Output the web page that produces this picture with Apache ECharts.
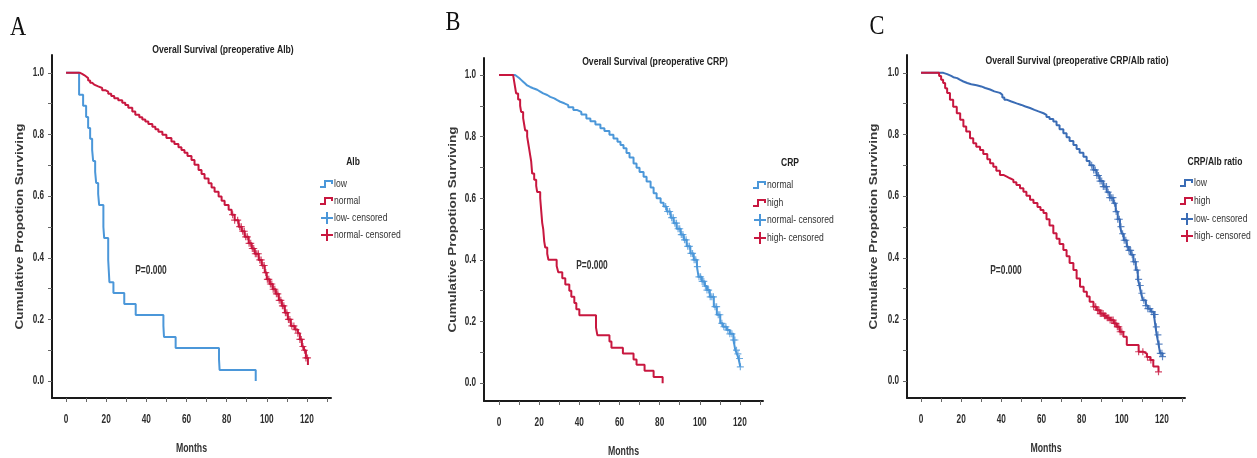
<!DOCTYPE html>
<html><head><meta charset="utf-8">
<script src="https://cdn.jsdelivr.net/npm/echarts@6/dist/echarts.min.js"></script>
<style>
html,body{margin:0;padding:0;background:#fff;width:1257px;height:458px;overflow:hidden}
.c{position:absolute;left:0;top:0;width:1257px;height:458px}
</style>
</head><body>
<div id="pa" class="c"></div><div id="pb" class="c"></div><div id="pc" class="c"></div>
<script>
// ---------- ticks ----------
const xTickLabels = [0, 20, 40, 60, 80, 100, 120];
const xTickMarks = [0, 10, 20, 30, 40, 50, 60, 70, 80, 90, 100, 110, 120, 130];
const yTickLabels = [0, 0.2, 0.4, 0.6, 0.8, 1.0];
const yTickMarks = [0, 0.1, 0.2, 0.3, 0.4, 0.5, 0.6, 0.7, 0.8, 0.9, 1.0];

// ---------- Panel A : Alb ----------
const albLowTime = [0, 6.5, 8.5, 10, 11, 12, 13, 13.5, 14.5, 15, 16, 16.5, 18.6, 19, 21, 21.3, 21.6, 23.6, 29, 34.7, 48.5, 48.8, 54.6, 76.2, 76.5, 94.5];
const albLowSurv = [1.0, 0.929, 0.893, 0.857, 0.821, 0.786, 0.75, 0.714, 0.679, 0.643, 0.607, 0.571, 0.5, 0.464, 0.393, 0.357, 0.321, 0.286, 0.25, 0.214, 0.179, 0.143, 0.107, 0.071, 0.036, 0.0];
const albLowCens = [];
const albNormalTime = [0, 6, 7, 8, 9, 10, 11, 12, 13, 14, 16, 18, 19.5, 21, 22.5, 24, 26, 28, 29.5, 31, 33, 34.5, 36.5, 38, 39.5, 41, 43, 44.5, 46, 48, 50, 52.5, 54, 56, 57.5, 59, 60.5, 62.5, 64, 66, 67.5, 69, 71, 72.5, 74, 76, 77.5, 79, 81, 82.5, 84, 86, 87.5, 89, 91, 92.5, 94, 96, 97.5, 99, 100, 101.5, 103, 104.5, 106, 107.5, 109, 110.5, 112, 114, 115.5, 116.5, 117.5, 118.5, 119.5, 120.5];
const albNormalSurv = [1.0, 1.0, 0.997, 0.993, 0.988, 0.983, 0.975, 0.968, 0.962, 0.956, 0.951, 0.944, 0.939, 0.932, 0.925, 0.918, 0.911, 0.903, 0.896, 0.887, 0.875, 0.864, 0.856, 0.849, 0.842, 0.834, 0.825, 0.817, 0.809, 0.799, 0.789, 0.777, 0.769, 0.759, 0.75, 0.741, 0.73, 0.717, 0.702, 0.685, 0.672, 0.657, 0.642, 0.628, 0.614, 0.599, 0.585, 0.571, 0.556, 0.54, 0.522, 0.501, 0.486, 0.468, 0.447, 0.43, 0.413, 0.393, 0.375, 0.352, 0.33, 0.315, 0.298, 0.283, 0.262, 0.244, 0.222, 0.2, 0.179, 0.167, 0.155, 0.135, 0.112, 0.1, 0.075, 0.052];
const albNormalCens = [83, 84, 85.5, 86.5, 87.3, 88, 88.8, 89.5, 90.3, 91.2, 92, 92.8, 93.5, 94.3, 95, 95.8, 96.5, 97.2, 98, 98.7, 99.5, 100.3, 101, 101.8, 102.5, 103.2, 104, 104.8, 105.5, 106.2, 107, 107.8, 108.5, 109.3, 110, 110.8, 111.5, 112.5, 113.5, 114.5, 115.5, 116.5, 117.2, 118, 118.8, 119.5, 120.3];

// ---------- Panel B : CRP ----------
const crpNormalTime = [0, 7, 8, 9, 10, 11, 12, 13, 14, 15.5, 17, 19, 20.5, 22, 24, 25.5, 27.5, 29, 30.5, 32.5, 34.5, 37, 39, 41, 43.5, 45.5, 48, 50.5, 52.5, 55, 57, 59, 60.5, 62, 63.5, 65, 67, 68.5, 70, 72, 73.5, 75.5, 77, 78.5, 80.5, 82, 83.5, 85.5, 87, 88.5, 90.5, 92, 93.5, 95.3, 97, 98.6, 99.4, 101, 102.5, 103.6, 105, 107, 108.5, 110.2, 111.5, 113.5, 115, 116.8, 117.7, 118.5, 119.3, 120.2];
const crpNormalSurv = [1.0, 1.0, 0.995, 0.99, 0.984, 0.978, 0.972, 0.966, 0.961, 0.957, 0.952, 0.946, 0.94, 0.935, 0.929, 0.924, 0.918, 0.913, 0.908, 0.902, 0.895, 0.886, 0.88, 0.872, 0.859, 0.85, 0.839, 0.827, 0.818, 0.806, 0.794, 0.783, 0.773, 0.762, 0.747, 0.732, 0.713, 0.699, 0.685, 0.67, 0.654, 0.635, 0.616, 0.6, 0.585, 0.573, 0.557, 0.537, 0.519, 0.501, 0.482, 0.465, 0.444, 0.421, 0.4, 0.378, 0.345, 0.33, 0.315, 0.302, 0.28, 0.248, 0.222, 0.194, 0.183, 0.172, 0.16, 0.14, 0.107, 0.095, 0.08, 0.053];
const crpNormalCens = [83, 84, 85, 86, 86.8, 87.6, 88.4, 89.2, 90, 90.8, 91.6, 92.4, 93.2, 94, 94.8, 95.6, 96.4, 97.2, 98, 98.8, 99.6, 100.4, 101.2, 102, 102.8, 103.6, 104.4, 105.2, 106, 106.8, 107.6, 108.4, 109.2, 110, 111, 112, 113, 114, 115, 116, 116.8, 117.5, 118.3, 119, 119.8, 120.2];
const crpHighTime = [0, 7, 7.5, 8, 8.5, 9.5, 10.5, 11, 12, 12.5, 13, 14, 14.5, 15, 15.5, 16, 16.5, 17.5, 18.5, 19, 20.5, 21, 21.5, 22, 22.5, 23, 24, 24.6, 28.7, 29.5, 31.5, 33, 35, 36, 37.5, 38.5, 40, 48.3, 49, 55, 56, 61.7, 67, 68.5, 72.5, 77, 81.5];
const crpHighSurv = [1.0, 1.0, 0.98, 0.96, 0.94, 0.92, 0.9, 0.88, 0.86, 0.84, 0.82, 0.8, 0.78, 0.76, 0.74, 0.72, 0.68, 0.66, 0.64, 0.62, 0.6, 0.56, 0.52, 0.5, 0.46, 0.44, 0.42, 0.4, 0.38, 0.36, 0.34, 0.32, 0.3, 0.28, 0.26, 0.24, 0.22, 0.18, 0.155, 0.135, 0.115, 0.096, 0.077, 0.06, 0.04, 0.02, 0.0];
const crpHighCens = [];

// ---------- Panel C : CRP/Alb ratio ----------
const ratioLowTime = [0, 9.5, 11.1, 13, 15, 16.1, 18, 19.5, 21.1, 23, 25, 27.7, 30, 32, 34.4, 36.5, 39.3, 40.5, 41.5, 42.6, 45, 47.6, 50, 52, 54.3, 56.5, 58.5, 61, 62.5, 64, 65.9, 67.5, 69, 70.9, 72.5, 74, 75.9, 77.5, 79, 80.9, 82.5, 84, 85.9, 87.5, 89, 90.8, 92.5, 94, 95.8, 97, 98, 99.1, 100, 101, 102.5, 103.5, 104.5, 105.8, 107, 108, 108.8, 109.6, 110.5, 112, 113, 114.5, 116, 116.8, 117.4, 118.3, 119.1, 120.3];
const ratioLowSurv = [1.0, 1.0, 0.996, 0.99, 0.986, 0.983, 0.977, 0.972, 0.967, 0.963, 0.96, 0.956, 0.951, 0.946, 0.94, 0.935, 0.929, 0.92, 0.913, 0.907, 0.901, 0.896, 0.891, 0.886, 0.88, 0.875, 0.869, 0.864, 0.857, 0.85, 0.842, 0.83, 0.817, 0.804, 0.791, 0.779, 0.766, 0.753, 0.741, 0.728, 0.714, 0.7, 0.685, 0.667, 0.649, 0.631, 0.613, 0.595, 0.577, 0.55, 0.525, 0.501, 0.478, 0.457, 0.436, 0.424, 0.41, 0.387, 0.36, 0.33, 0.31, 0.285, 0.262, 0.245, 0.235, 0.225, 0.216, 0.176, 0.15, 0.12, 0.09, 0.079];
const ratioLowCens = [85, 86, 86.8, 87.6, 88.4, 89.2, 90, 90.8, 91.6, 92.4, 93.2, 94, 94.8, 95.6, 96.4, 97.2, 98, 98.8, 99.6, 100.4, 101.2, 102, 102.8, 103.6, 104.4, 105.2, 106, 106.8, 107.6, 108.4, 109.2, 110, 111, 112, 113, 114, 115, 116, 116.6, 117.2, 118, 118.6, 119.2, 120, 120.3];
const ratioHighTime = [0, 7.8, 9, 10, 11, 12, 13, 14.4, 16, 17.8, 19.5, 21.1, 22.5, 24.4, 26, 27.5, 29.4, 31, 33, 34.4, 36, 37.5, 39.3, 41, 42.5, 44.3, 46, 47.5, 49.3, 51, 52.5, 54.3, 56, 58, 59.5, 61, 62.5, 64, 65.9, 67.5, 69, 70.9, 72.5, 74, 75.9, 77.5, 79.2, 81, 82.6, 84, 85.9, 87.5, 89.2, 91, 92.5, 94.2, 96, 97.5, 99, 100.8, 102.5, 108.4, 110.9, 112.5, 114.2, 115.7, 118.3];
const ratioHighSurv = [1.0, 1.0, 0.99, 0.978, 0.967, 0.95, 0.935, 0.913, 0.89, 0.869, 0.848, 0.826, 0.81, 0.788, 0.772, 0.76, 0.75, 0.737, 0.72, 0.707, 0.695, 0.682, 0.669, 0.664, 0.658, 0.653, 0.645, 0.636, 0.626, 0.614, 0.601, 0.588, 0.578, 0.565, 0.555, 0.545, 0.525, 0.505, 0.48, 0.462, 0.445, 0.425, 0.405, 0.383, 0.36, 0.333, 0.306, 0.29, 0.274, 0.257, 0.241, 0.23, 0.219, 0.212, 0.205, 0.198, 0.187, 0.176, 0.16, 0.144, 0.117, 0.095, 0.089, 0.078, 0.068, 0.047, 0.03];
const ratioHighCens = [86, 87, 88, 88.6, 89.3, 90, 90.7, 91.4, 92, 92.8, 93.5, 94.2, 95, 95.7, 96.4, 97, 97.8, 98.5, 99.2, 100, 108.4, 110.5, 112.8, 114.5, 118.3];

// ---------- styling ----------
const SANS = '"Liberation Sans",Arial,sans-serif';
const SERIF = '"Liberation Serif","DejaVu Serif",serif';
const BLUE = '#4b97d9';
const DARKBLUE = '#3a6cb5';
const RED = '#c8173f';
const PLUS_PATH = 'M5,0 L7,0 L7,5 L12,5 L12,7 L7,7 L7,12 L5,12 L5,7 L0,7 L0,5 L5,5 Z';

function pairs(t, s) { return t.map((v, i) => [v, s[i]]); }
function survAt(t, s, x) { let k = 0; for (let i = 0; i < t.length; i++) { if (t[i] <= x) k = i; } return s[k]; }

function txt(x, y, text, size, weight, sx, opts) {
  opts = opts || {};
  return { type: 'text', x: x, y: y, scaleX: sx || 1, rotation: opts.rot || 0, silent: true,
    style: { text: String(text), fontFamily: opts.font || SANS, fontSize: size, fontWeight: weight || 'normal',
      fill: opts.color || '#2a2a2a', align: opts.align || 'center', verticalAlign: 'middle' } };
}

function panel(el, p) {
  const chart = echarts.init(document.getElementById(el), null, { renderer: 'canvas' });
  const series = [];
  p.groups.forEach(g => {
    series.push({ name: g.name, type: 'line', step: 'end', showSymbol: false, symbol: 'none',
      data: pairs(g.time, g.surv), lineStyle: { color: g.color, width: 2 }, itemStyle: { color: g.color },
      animation: false, z: 3 });
  });
  p.groups.forEach(g => {
    series.push({ name: g.name + '- censored', type: 'scatter', symbol: 'path://' + PLUS_PATH, symbolSize: 7,
      data: g.cens.map(x => [x, survAt(g.time, g.surv, x)]), itemStyle: { color: g.color },
      animation: false, z: 4 });
  });
  chart.setOption({
    animation: false,
    grid: { left: p.grid[0], top: p.grid[1], width: p.grid[2], height: p.grid[3], containLabel: false },
    xAxis: { type: 'value', min: p.xr[0], max: p.xr[1], splitLine: { show: false },
      axisLine: { show: true, onZero: false, lineStyle: { color: '#1a1a1a', width: 2 } },
      axisTick: { show: true, customValues: xTickMarks, length: 4, lineStyle: { color: '#666', width: 1 } },
      axisLabel: { show: false } },
    yAxis: { type: 'value', min: p.yr[0], max: p.yr[1], splitLine: { show: false },
      axisLine: { show: true, onZero: false, lineStyle: { color: '#1a1a1a', width: 2 } },
      axisTick: { show: true, customValues: yTickMarks, length: 4, lineStyle: { color: '#666', width: 1 } },
      axisLabel: { show: false } },
    series: series
  });

  const gx = p.grid[0], gy = p.grid[1], gw = p.grid[2], gh = p.grid[3];
  const axisY = gy + gh;
  const els = [];
  // tick labels through the axis scales
  xTickLabels.forEach(v => {
    const px = chart.convertToPixel({ xAxisIndex: 0 }, v);
    els.push(txt(px, axisY + 22, v, 12.5, 'bold', 0.66, { color: '#2e2e2e' }));
  });
  yTickLabels.forEach(v => {
    const py = chart.convertToPixel({ yAxisIndex: 0 }, v);
    els.push(txt(gx - 8, py, v.toFixed(1), 12, 'bold', 0.68, { color: '#2e2e2e', align: 'right' }));
  });
  // axis names
  els.push(txt(gx + gw / 2, axisY + 51, 'Months', 12.5, 'bold', 0.7, { color: '#333' }));
  els.push(txt(p.yname, gy + gh / 2, 'Cumulative Propotion Surviving', 11, 'bold', 1.23, { color: '#3a3a3a', rot: Math.PI / 2 }));
  // panel letter, title, p value
  els.push(txt(p.letter[0], p.letter[1], p.letter[2], 28, 'normal', 0.8, { font: SERIF, color: '#111' }));
  els.push(txt(p.title[0], p.title[1], p.title[2], 11.5, 'bold', 0.75, { color: '#222' }));
  els.push(txt(p.pval[0], p.pval[1], 'P=0.000', 12, 'bold', 0.7, { color: '#333' }));
  // legend
  const lx = p.legend[0], rows = p.legend[1];
  els.push(txt(p.ltitle[0], p.ltitle[1], p.ltitle[2], 11.5, 'bold', 0.74, { color: '#222' }));
  const items = [];
  p.groups.forEach(g => items.push({ name: g.name, color: g.color, step: true }));
  p.groups.forEach(g => items.push({ name: g.name + '- censored', color: g.color, step: false }));
  items.forEach((it, i) => {
    const ry = rows[i];
    if (it.step) {
      els.push({ type: 'polyline', silent: true,
        shape: { points: [[lx, ry + 3], [lx + 5, ry + 3], [lx + 5, ry - 3], [lx + 12, ry - 3], [lx + 12, ry]] },
        style: { stroke: it.color, lineWidth: 2, fill: null } });
    } else {
      els.push({ type: 'line', silent: true, shape: { x1: lx + 1, y1: ry, x2: lx + 13, y2: ry },
        style: { stroke: it.color, lineWidth: 2 } });
      els.push({ type: 'line', silent: true, shape: { x1: lx + 7, y1: ry - 6, x2: lx + 7, y2: ry + 6 },
        style: { stroke: it.color, lineWidth: 2 } });
    }
    els.push(txt(lx + 14, ry, it.name, 11, 'normal', 0.78, { color: '#333', align: 'left' }));
  });
  chart.setOption({ graphic: els });
}

panel('pa', {
  grid: [52, 55, 279, 343], xr: [-7, 132], yr: [-0.055, 1.058], yname: 20,
  legend: [320, [184, 201, 218, 235]],
  letter: [18, 28, 'A'], title: [223, 50, 'Overall Survival (preoperative Alb)'], pval: [151, 271], ltitle: [353, 162, 'Alb'],
  groups: [
    { name: 'low', time: albLowTime, surv: albLowSurv, cens: albLowCens, color: BLUE },
    { name: 'normal', time: albNormalTime, surv: albNormalSurv, cens: albNormalCens, color: RED }
  ]
});
panel('pb', {
  grid: [484, 58, 279, 343], xr: [-7.5, 131.5], yr: [-0.058, 1.055], yname: 453,
  legend: [753, [185, 203, 220, 238]],
  letter: [453, 23, 'B'], title: [655, 62, 'Overall Survival (preoperative CRP)'], pval: [592, 266], ltitle: [790, 163, 'CRP'],
  groups: [
    { name: 'normal', time: crpNormalTime, surv: crpNormalSurv, cens: crpNormalCens, color: BLUE },
    { name: 'high', time: crpHighTime, surv: crpHighSurv, cens: crpHighCens, color: RED }
  ]
});
panel('pc', {
  grid: [907, 55, 278, 343], xr: [-7, 131.5], yr: [-0.055, 1.058], yname: 874,
  legend: [1180, [183, 201, 219, 236]],
  letter: [877, 27, 'C'], title: [1077, 61, 'Overall Survival (preoperative CRP/Alb ratio)'], pval: [1006, 271], ltitle: [1215, 162, 'CRP/Alb ratio'],
  groups: [
    { name: 'low', time: ratioLowTime, surv: ratioLowSurv, cens: ratioLowCens, color: DARKBLUE },
    { name: 'high', time: ratioHighTime, surv: ratioHighSurv, cens: ratioHighCens, color: RED }
  ]
});
</script>
</body></html>
